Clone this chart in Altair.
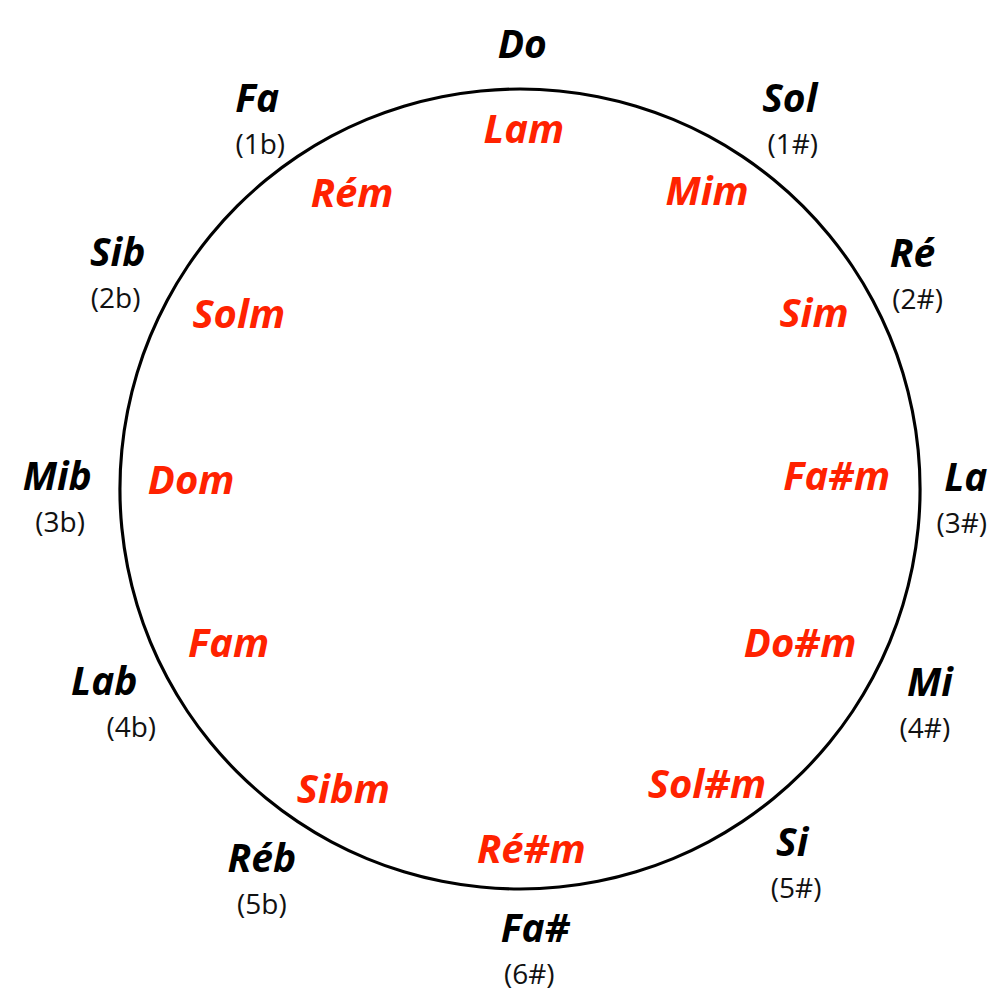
import math
import altair as alt
import pandas as pd

# Circle of fifths: major keys (outer ring), relative minors (inner ring),
# key signatures. Angles are degrees clockwise from the top, radii in px
# from the circle centre.
major_keys = ["Do", "Sol", "Ré", "La", "Mi", "Si", "Fa#", "Réb", "Lab", "Mib", "Sib", "Fa"]
major_angle = [0.3, 34.6, 59.0, 88.4, 115.2, 142.4, 178.0, 215.0, 245.2, 271.6, 300.5, 326.1]
major_radius = [445, 475, 458, 446, 453, 446, 439, 450, 458, 463, 467, 471]

signatures = ["", "(1#)", "(2#)", "(3#)", "(4#)", "(5#)", "(6#)", "(5b)", "(4b)", "(3b)", "(2b)", "(1b)"]
signature_shift = [0, 3, 5, -4, -5, 4, -6, 0, 27, 3, -2, 3]

minor_keys = ["Lam", "Mim", "Sim", "Fa#m", "Do#m", "Sol#m", "Ré#m", "Sibm", "Fam", "Dom", "Solm", "Rém"]
minor_angle = [0.6, 32.0, 59.0, 87.5, 118.6, 147.5, 178.2, 210.6, 242.3, 271.7, 302.1, 330.5]
minor_radius = [361, 353, 343, 317, 319, 348, 359, 347, 329, 329, 332, 341]

circle_radius = 400


def polar(names, angles, radii):
    xs = [r * math.sin(math.radians(a)) for a, r in zip(angles, radii)]
    ys = [r * math.cos(math.radians(a)) for a, r in zip(angles, radii)]
    return pd.DataFrame({"label": names, "x": xs, "y": ys})


major_df = polar(major_keys, major_angle, major_radius)
sig_df = major_df.copy()
sig_df["label"] = signatures
sig_df["x"] = sig_df["x"] + pd.Series(signature_shift)
sig_df["y"] = sig_df["y"] - 47
sig_df = sig_df[sig_df["label"] != ""]
minor_df = polar(minor_keys, minor_angle, minor_radius)
centre_df = pd.DataFrame({"x": [0], "y": [0], "v": [1]})

W, H = 982, 990
xscale = alt.Scale(domain=[-512, 470], nice=False, zero=False)
yscale = alt.Scale(domain=[-509, 481], nice=False, zero=False)

ring = alt.Chart(centre_df).mark_arc(
    radius=circle_radius + 1.5, radius2=circle_radius - 1.5, color="black"
).encode(
    theta=alt.Theta("v:Q"),
    x=alt.X("x:Q", scale=xscale, axis=None),
    y=alt.Y("y:Q", scale=yscale, axis=None),
)

font = "Open Sans"

major_text = alt.Chart(major_df).mark_text(
    font=font, fontSize=39, fontWeight="bold", fontStyle="italic",
    color="black", align="center", baseline="middle", dy=2,
).encode(
    x=alt.X("x:Q", scale=xscale, axis=None),
    y=alt.Y("y:Q", scale=yscale, axis=None),
    text="label:N",
)

sig_text = alt.Chart(sig_df).mark_text(
    font=font, fontSize=28, color="#111111", align="center", baseline="middle", dy=1,
).encode(
    x=alt.X("x:Q", scale=xscale, axis=None),
    y=alt.Y("y:Q", scale=yscale, axis=None),
    text="label:N",
)

minor_text = alt.Chart(minor_df).mark_text(
    font=font, fontSize=40, fontWeight="bold", fontStyle="italic",
    color="#ff2200", align="center", baseline="middle", dy=3,
).encode(
    x=alt.X("x:Q", scale=xscale, axis=None),
    y=alt.Y("y:Q", scale=yscale, axis=None),
    text="label:N",
)

chart = alt.layer(ring, minor_text, major_text, sig_text).properties(
    width=W, height=H, padding=0, autosize=alt.AutoSizeParams(type="none"),
    background="white",
).configure_view(stroke=None)

chart.save("out.html", embed_options={"renderer": "svg", "actions": False})
